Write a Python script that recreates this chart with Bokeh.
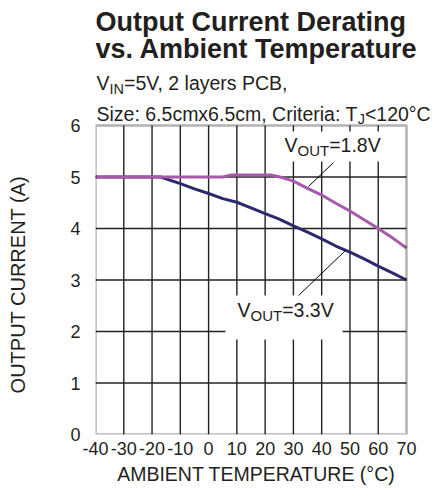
from math import pi
from bokeh.plotting import figure
from bokeh.layouts import row, column
from bokeh.models import Label, BoxAnnotation, FixedTicker, Range1d
from bokeh.embed import file_html
from bokeh.resources import INLINE

# ---------------- data ----------------
temp_18 = [-40, -30, -20, -10, 0, 5, 8, 15, 22, 26, 30, 35, 40, 45, 50, 55, 60, 65, 67, 70]
cur_18 = [5.0, 5.0, 5.0, 5.0, 5.0, 5.0, 5.04, 5.04, 5.04, 4.99, 4.92, 4.78, 4.65, 4.49, 4.34, 4.17, 4.0, 3.82, 3.74, 3.62]

temp_33 = [-40, -30, -20, -17, -10, -5, 0, 5, 10, 15, 20, 25, 30, 35, 40, 45, 50, 55, 60, 65, 70]
cur_33 = [5.0, 5.0, 5.0, 5.0, 4.87, 4.77, 4.68, 4.58, 4.51, 4.40, 4.29, 4.18, 4.05, 3.93, 3.80, 3.66, 3.54, 3.41, 3.27, 3.14, 3.0]

x_ticks = [-40, -30, -20, -10, 0, 10, 20, 30, 40, 50, 60, 70]
x_tick_labels = ["-40", "-30", "-20", "-10", "0", "10", "20", "30", "40", "50", "60", "70"]
y_ticks = [0, 1, 2, 3, 4, 5, 6]

title_lines = ["Output Current Derating", "vs. Ambient Temperature"]
x_title = "AMBIENT TEMPERATURE (°C)"
y_title = "OUTPUT CURRENT (A)"

# ---------------- layout (page px) ----------------
W, H = 430, 485
SW = 30                                  # left strip holding the y-axis title
SH = 25                                  # bottom strip holding the x-axis title
PL, PR, PT, PB = 95, 406, 125, 434       # data-area edges
XMIN, XMAX = x_ticks[0], x_ticks[-1]
YMIN, YMAX = y_ticks[0], y_ticks[-1]
KX = (PR - PL) / (XMAX - XMIN)
KY = (PB - PT) / (YMAX - YMIN)
FONT = "Liberation Sans"
TXT = "#231f20"
NAVY = "#2d2a6b"
PURPLE = "#a65aa8"
BASE_SHIFT = 0.38                        # label anchor correction (em)
XS_SHIFT = 28.5                          # observed offset of the bottom strip

ARIAL = {' ': 278, ',': 278, '.': 278, ':': 278, '=': 584, '<': 584, '°': 400, '(': 333, ')': 333,
         'V': 667, 'I': 278, 'N': 722, 'O': 778, 'U': 722, 'T': 611, 'J': 500, 'S': 667, 'C': 722,
         'P': 667, 'B': 667, 'a': 556, 'c': 500, 'e': 556, 'i': 222, 'l': 222, 'm': 833, 'r': 333,
         's': 500, 't': 278, 'x': 500, 'y': 500, 'z': 500}


def tw(s, fs):
    return sum(ARIAL.get(c, 556) for c in s) / 1000.0 * fs


def px2x(px):
    return XMIN + (px - PL) / KX


def py2y(py):
    return YMIN + (PB - py) / KY


def blank(width, height, x0, y0):
    f = figure(width=width, height=height, output_backend="svg", toolbar_location=None, title=None,
               x_range=Range1d(x0, x0 + width), y_range=Range1d(y0 + height, y0),
               min_border_left=0, min_border_right=0, min_border_top=0, min_border_bottom=0,
               background_fill_color="white", border_fill_color="white")
    f.outline_line_color = None
    f.axis.visible = False
    f.grid.visible = False
    return f


# ---- left strip: rotated y-axis title ----
ys = blank(SW, H, 0, 0)
ys.add_layout(Label(x=17.5, y=(PT + PB) / 2 + 4.5, text=y_title, angle=pi / 2, text_font=FONT,
                    text_font_size="20px", text_color=TXT, text_align="center", text_baseline="middle"))

# ---- bottom strip: x-axis title ----
xs = blank(W - SW, SH, 0, H - SH)
xs.add_layout(Label(x=(PL + PR) / 2 - SW - XS_SHIFT, y=H - 4 - BASE_SHIFT * 19.5, text=x_title,
                    text_font=FONT, text_font_size="19.5px", text_color=TXT, text_align="center",
                    text_baseline="alphabetic"))

# ---- main chart: its frame also covers the heading area ----
p = figure(width=W - SW, height=H - SH, output_backend="svg", toolbar_location=None, title=None,
           x_range=Range1d(XMIN, px2x(W)), y_range=Range1d(YMIN, py2y(0)),
           min_border_left=PL - SW, min_border_right=0, min_border_top=0, min_border_bottom=H - SH - PB,
           background_fill_color="white", border_fill_color="white")
p.outline_line_color = None
p.grid.visible = False

for ax in (p.xaxis[0], p.yaxis[0]):
    ax.axis_line_color = None
    ax.major_tick_line_color = None
    ax.minor_tick_line_color = None
    ax.major_label_text_font = FONT
    ax.major_label_text_font_size = "18px"
    ax.major_label_text_color = TXT
p.xaxis.ticker = FixedTicker(ticks=x_ticks)
p.xaxis.major_label_overrides = dict(zip(x_ticks, x_tick_labels))
p.yaxis.ticker = FixedTicker(ticks=y_ticks)
p.xaxis.major_label_standoff = 1
p.yaxis.major_label_standoff = 9

# grid lines restricted to the data area
vx = x_ticks[1:-1]
p.segment(x0=vx, y0=[YMIN] * len(vx), x1=vx, y1=[YMAX] * len(vx), line_color="#222222", line_width=1.4)
hy = y_ticks[1:-1]
p.segment(x0=[XMIN] * len(hy), y0=hy, x1=[XMAX] * len(hy), y1=hy, line_color="#222222", line_width=1.4)

# curves
p.line(temp_33, cur_33, line_color=NAVY, line_width=3)
p.line(temp_18, cur_18, line_color=PURPLE, line_width=3)

# leader lines (annotation geometry, px)
p.line([px2x(308), px2x(333)], [py2y(186), py2y(162)], line_color="black", line_width=1)
p.line([px2x(297), px2x(345)], [py2y(296), py2y(250)], line_color="black", line_width=1)

# white boxes behind the series labels
p.add_layout(BoxAnnotation(left=px2x(272), right=px2x(395), top=py2y(131), bottom=py2y(161),
                           fill_color="white", fill_alpha=1, line_alpha=0))
p.add_layout(BoxAnnotation(left=px2x(225), right=px2x(342), top=py2y(295), bottom=py2y(339),
                           fill_color="white", fill_alpha=1, line_alpha=0))
# plot border
p.add_layout(BoxAnnotation(left=XMIN, right=XMAX, bottom=YMIN, top=YMAX,
                           fill_alpha=0, line_color="black", line_width=2.5))


def lab(px, base, text, fs, bold=False):
    p.add_layout(Label(x=px2x(px), y=py2y(base - BASE_SHIFT * fs), text=text, text_font=FONT,
                       text_font_size=f"{fs}px", text_font_style="bold" if bold else "normal",
                       text_color=TXT, text_align="left", text_baseline="alphabetic"))


def sub_text(px, base, main1, sub, main2, fs, sfs, drop):
    lab(px, base, main1, fs)
    x2 = px + tw(main1, fs)
    lab(x2, base + drop, sub, sfs)
    lab(x2 + tw(sub, sfs), base, main2, fs)


# heading
lab(95, 32, title_lines[0], 27, bold=True)
lab(95, 59, title_lines[1], 27, bold=True)
sub_text(96, 90, "V", "IN", "=5V, 2 layers PCB,", 19.5, 14.5, 4)
sub_text(96, 121, "Size: 6.5cmx6.5cm, Criteria: T", "J", "<120°C", 19.5, 14.5, 3)

# series labels
sub_text(284, 152, "V", "OUT", "=1.8V", 19.5, 15, 4)
sub_text(237, 317, "V", "OUT", "=3.3V", 19.5, 15, 4)

open("out.html", "w").write(file_html(row(ys, column(p, xs)), INLINE))
